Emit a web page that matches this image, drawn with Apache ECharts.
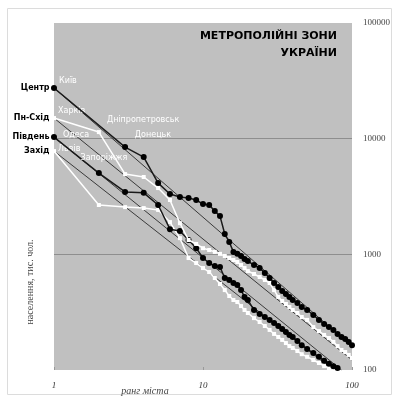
<!DOCTYPE html>
<html>
<head>
<meta charset="utf-8">
<script src="https://cdn.jsdelivr.net/npm/echarts@6/dist/echarts.min.js"></script>
<style>
  html, body { margin: 0; padding: 0; background: #fff; }
  #chart { width: 398px; height: 401px; }
</style>
</head>
<body>
<div id="chart"></div>
<script>
// city rank inside a metropolitan zone (log axis)
const ranks = [1, 2, 3, 4, 5, 6, 7, 8, 9, 10, 11, 12, 13, 14, 15, 16, 17, 18, 19, 20,
  22, 24, 26, 28, 30, 32, 34, 36, 38, 40, 43, 46, 50, 55, 60, 65, 70, 75, 80, 85, 90, 95, 100];

// population by rank
const centrePop = [27400, null, 8460, 6930, 4130, 3320, 3130, 3070, 2950, 2720, 2670, 2370, 2140, 1500, 1280,
  1050, 1010, 967, 911, 875, 808, 761, 689, 624, 565, 522, 482, 454, 428, 403, 379, 350,
  330, 299, 271, 250, 235, 222, 205, 193, 185, 175, 164];
const northEastPop = [15070, 11400, 4940, 4660, 3740, 2950, 1860, 1330, 1230, 1130, 1090, 1050, 1010, 967, 929,
  893, 858, 808, 761, 717, 676, 637, 600, 565, 491, 428, 395, 372, 350, 330, 311, 287,
  271, 235, 217, 201, 189, 175, 161, 149, 143, 135, 127];
const southPop = [10320, 5040, 3460, 3400, 2670, 1650, 1590, 1330, 1130, 929, 841, 792, 777, 624, 600,
  565, 543, 491, 428, 403, 330, 305, 287, 271, 255, 240, 226, 213, 201, 193, 178, 164,
  152, 140, 130, 120, 113, 108, 104];
const westPop = [7810, 2670, 2560, 2510, 2420, 1900, 1380, 929, 841, 761, 703, 624, 554, 491, 436,
  403, 387, 357, 330, 311, 281, 260, 240, 222, 205, 193, 182, 171, 161, 155, 146, 137,
  130, 122, 115, 108, 104, 102];

// straight rank-size lines, [rank, population] end points
const centreLine = [[1, 27400], [100, 160]];
const northEastLine = [[1, 15070], [100, 122]];
const southLine = [[1, 10320], [85, 100]];
const westLine = [[1, 7810], [75, 100]];

const zones = ['Центр', 'Пн-Схід', 'Південь', 'Захід'];
const cities = ['Київ', 'Харків', 'Дніпропетровськ', 'Донецьк', 'Одеса', 'Запоріжжя', 'Львів'];
const xTicks = [1, 10, 100];
const yTicks = [100, 1000, 10000, 100000];
const titleLines = ['МЕТРОПОЛІЙНІ ЗОНИ', 'УКРАЇНИ'];
const xName = 'ранг міста';
const yName = 'населення, тис. чол.';

function cityLabel(text, position, offset) {
  return {
    show: true, formatter: text, position, distance: 2, offset,
    color: '#fff', fontSize: 8, fontFamily: 'DejaVu Sans'
  };
}

function points(values, labels) {
  const out = [];
  values.forEach((v, i) => {
    if (v == null) return;
    const item = { value: [ranks[i], v] };
    if (labels && labels[ranks[i]]) item.label = labels[ranks[i]];
    out.push(item);
  });
  return out;
}

function zoneLine(ends, name) {
  return {
    type: 'line', silent: true, z: 1,
    symbol: 'circle', symbolSize: 1, showSymbol: true,
    itemStyle: { color: 'rgba(0,0,0,0)' },
    lineStyle: { color: '#3a3a3a', width: 1 },
    data: ends.map((p, i) => i === 0 ? {
      value: p,
      label: {
        show: true, formatter: name, position: 'left', distance: 4,
        color: '#000', fontSize: 8, fontWeight: 'bold', fontFamily: 'DejaVu Sans'
      }
    } : { value: p })
  };
}

function blackSeries(data, z) {
  return {
    type: 'line', z, symbol: 'circle', symbolSize: 6,
    itemStyle: { color: '#000' },
    lineStyle: { color: '#1a1a1a', width: 1.5 },
    data
  };
}

function whiteSeries(data, z) {
  return {
    type: 'line', z, symbol: 'rect', symbolSize: 4,
    itemStyle: { color: '#fff' },
    lineStyle: { color: '#fff', width: 1.5 },
    data
  };
}

const chart = echarts.init(document.getElementById('chart'));

chart.setOption({
  animation: false,
  grid: {
    left: 54, right: 46, top: 23, bottom: 31,
    show: true, backgroundColor: '#c0c0c0', borderWidth: 0
  },
  xAxis: {
    type: 'log', logBase: 10, min: xTicks[0], max: xTicks[xTicks.length - 1],
    axisLine: { show: false },
    axisTick: { show: true, inside: true, length: 3, lineStyle: { color: '#999' } },
    splitLine: { show: false },
    axisLabel: {
      margin: 11, color: '#333', fontSize: 9, fontStyle: 'italic',
      fontFamily: 'Liberation Serif',
      formatter: (v) => String(Math.round(v))
    }
  },
  yAxis: {
    type: 'log', logBase: 10, position: 'right',
    min: yTicks[0], max: yTicks[yTicks.length - 1],
    axisLine: { show: false },
    axisTick: { show: false },
    splitLine: { show: true, showMinLine: false, showMaxLine: false, lineStyle: { color: '#8e8e8e', width: 1 } },
    axisLabel: {
      margin: 11, color: '#444', fontSize: 9, fontFamily: 'Liberation Serif',
      formatter: (v) => String(Math.round(v))
    }
  },
  graphic: [
    {
      type: 'rect', silent: true, z: -10,
      shape: { x: 7.5, y: 8.5, width: 384, height: 386 },
      style: { fill: 'none', stroke: '#dcdcdc', lineWidth: 1 }
    },
    {
      type: 'text', x: 337, y: 28, z: 100,
      style: {
        text: titleLines.join('\n'), align: 'right', lineHeight: 17,
        font: 'bold 11px "DejaVu Sans"', fill: '#000'
      }
    },
    {
      type: 'text', x: 145, y: 391, z: 100,
      style: {
        text: xName, align: 'center', verticalAlign: 'middle',
        font: 'italic 10px "Liberation Serif"', fill: '#444'
      }
    },
    {
      type: 'text', x: 30, y: 282, rotation: Math.PI / 2, z: 100,
      style: {
        text: yName, align: 'center', verticalAlign: 'middle',
        font: '10px "Liberation Serif"', fill: '#444'
      }
    }
  ],
  series: [
    zoneLine(centreLine, zones[0]),
    zoneLine(northEastLine, zones[1]),
    zoneLine(southLine, zones[2]),
    zoneLine(westLine, zones[3]),
    whiteSeries(points(westPop, {
      1: cityLabel(cities[6], 'right', [0, -2])
    }), 3),
    blackSeries(points(southPop, {
      1: cityLabel(cities[4], 'right', [4, -2]),
      2: cityLabel(cities[5], 'top', [5, -6])
    }), 4),
    whiteSeries(points(northEastPop, {
      1: cityLabel(cities[1], 'right', [0, -7]),
      2: cityLabel(cities[3], 'right', [32, 3])
    }), 5),
    blackSeries(points(centrePop, {
      1: cityLabel(cities[0], 'right', [0, -7]),
      3: cityLabel(cities[2], 'top', [18, -18])
    }), 6)
  ]
});
</script>
</body>
</html>
